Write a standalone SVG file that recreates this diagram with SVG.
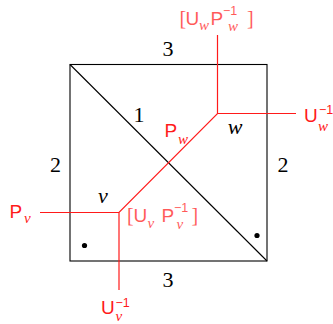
<svg xmlns="http://www.w3.org/2000/svg" width="333" height="324" viewBox="0 0 333 324">
<style>
.blk{fill:none;stroke:#000;stroke-width:1.1}
.red{fill:none;stroke:#ff1a1a;stroke-width:1.2}
.num{font-family:"Liberation Serif",serif;font-size:22px;fill:#000}
.it{font-family:"Liberation Serif",serif;font-style:italic;font-size:22px;fill:#000}
.lab{fill:#ff1a1a}
.rs{font-family:"Liberation Sans",sans-serif;font-size:19px}
.ri{font-family:"Liberation Serif",serif;font-style:italic;font-size:15px}
.rp{font-family:"Liberation Sans",sans-serif;font-size:12.5px}
.rb{font-family:"Liberation Serif",serif;font-size:20px}
.pale{opacity:0.72}
</style>
<rect width="333" height="324" fill="#fff"/>
<g id="square">
<rect class="blk" x="70" y="64.5" width="197" height="196.5"/>
<line class="blk" x1="70" y1="64.5" x2="267" y2="261"/>
<circle cx="84.5" cy="245.5" r="2.6" fill="#000"/>
<circle cx="257" cy="235.5" r="2.6" fill="#000"/>
</g>
<g id="edge-labels">
<text class="num" x="168" y="56" text-anchor="middle">3</text>
<text class="num" x="168" y="287" text-anchor="middle">3</text>
<text class="num" x="55.5" y="172" text-anchor="middle">2</text>
<text class="num" x="283" y="172" text-anchor="middle">2</text>
<text class="num" x="139" y="122" text-anchor="middle">1</text>
</g>
<g id="connectors">
<polyline class="red" points="40,212.5 119,212.5 217.5,113.5 296,113.5"/>
<line class="red" x1="119" y1="212.5" x2="119" y2="290"/>
<line class="red" x1="217.5" y1="113.5" x2="217.5" y2="35"/>
</g>
<g id="node-v">
<text class="it" x="103" y="203" text-anchor="middle">v</text>
</g>
<g id="node-w">
<text class="it" x="235" y="134" text-anchor="middle">w</text>
</g>
<g id="label-Pw">
<text class="lab"><tspan class="rs" x="164.5" y="137">P</tspan><tspan class="ri" x="178" y="144">w</tspan></text>
</g>
<g id="label-Pv">
<text class="lab"><tspan class="rs" x="9.5" y="218">P</tspan><tspan class="ri" x="24" y="223">v</tspan></text>
</g>
<g id="label-Uv-inv">
<text class="lab"><tspan class="rs" x="101" y="314">U</tspan><tspan class="rp" x="115.5" y="307">−1</tspan><tspan class="ri" x="115.5" y="321">v</tspan></text>
</g>
<g id="label-Uw-inv">
<text class="lab"><tspan class="rs" x="304" y="122">U</tspan><tspan class="rp" x="319" y="114">−1</tspan><tspan class="ri" x="318" y="131">w</tspan></text>
</g>
<g id="label-UwPw" class="pale">
<text class="lab"><tspan class="rb" x="179.5" y="25">[</tspan><tspan class="rs" x="185.5" y="25">U</tspan><tspan class="ri" x="199" y="30">w</tspan><tspan class="rs" x="210.5" y="25">P</tspan><tspan class="rp" x="223" y="15">−1</tspan><tspan class="ri" x="228" y="31">w</tspan><tspan class="rb" x="247" y="25">]</tspan></text>
</g>
<g id="label-UvPv" class="pale">
<text class="lab"><tspan class="rb" x="127" y="222">[</tspan><tspan class="rs" x="133.5" y="222">U</tspan><tspan class="ri" x="147.5" y="228">v</tspan><tspan class="rs" x="161.5" y="222">P</tspan><tspan class="rp" x="174" y="212">−1</tspan><tspan class="ri" x="176.5" y="229">v</tspan><tspan class="rb" x="191.5" y="222">]</tspan></text>
</g>
</svg>
